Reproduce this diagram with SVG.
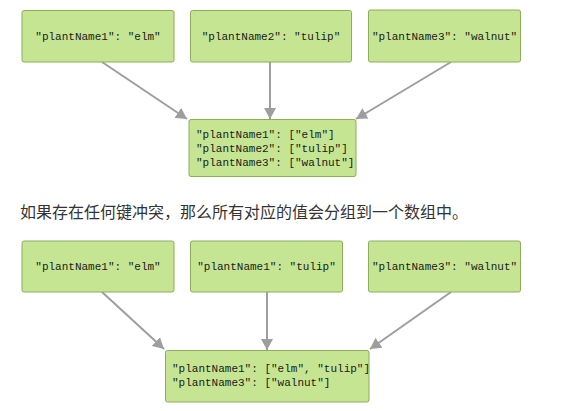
<svg xmlns="http://www.w3.org/2000/svg" width="586" height="411" viewBox="0 0 586 411">
<defs>
<marker id="ah" markerWidth="11" markerHeight="12" refX="11" refY="6" orient="auto" markerUnits="userSpaceOnUse">
<path d="M0,0 L11,6 L0,12 Z" fill="#9e9e9e"/>
</marker>
<style>
.box{fill:#c5e593;stroke:#8cad5c;stroke-width:1}
.t{font-family:"Liberation Mono","DejaVu Sans Mono",monospace;font-size:11px;fill:#1a1a1a}
.c{fill:none;stroke:#9e9e9e;stroke-width:2;marker-end:url(#ah)}
.zh{font-family:"Noto Sans CJK SC",sans-serif;font-size:16px;fill:#333}
</style>
</defs>
<rect width="586" height="411" fill="#fff"/>
<g id="connectors">
<line class="c" x1="102" y1="62" x2="187" y2="119"/>
<line class="c" x1="270" y1="62" x2="270" y2="119"/>
<line class="c" x1="451" y1="62" x2="356" y2="119"/>
<line class="c" x1="102" y1="292" x2="164" y2="349"/>
<line class="c" x1="267" y1="292" x2="267" y2="350"/>
<line class="c" x1="451" y1="292" x2="370" y2="349"/>
</g>
<g id="a1"><rect class="box" x="22" y="10.5" width="152" height="51.5" rx="2"/><text class="t" x="98" y="40" text-anchor="middle">"plantName1": "elm"</text></g>
<g id="a2"><rect class="box" x="190.5" y="10.5" width="161" height="51.5" rx="2"/><text class="t" x="271" y="40" text-anchor="middle">"plantName2": "tulip"</text></g>
<g id="a3"><rect class="box" x="368.5" y="10" width="152" height="52" rx="2"/><text class="t" x="444.5" y="40" text-anchor="middle">"plantName3": "walnut"</text></g>
<g id="a4"><rect class="box" x="189" y="119.5" width="167" height="57" rx="2"/>
<text class="t" x="196" y="138">"plantName1": ["elm"]</text>
<text class="t" x="196" y="152">"plantName2": ["tulip"]</text>
<text class="t" x="196" y="166">"plantName3": ["walnut"]</text></g>
<text class="zh" x="20" y="218">如果存在任何键冲突，那么所有对应的值会分组到一个数组中。</text>
<g id="b1"><rect class="box" x="22" y="241" width="152" height="51" rx="2"/><text class="t" x="98" y="270" text-anchor="middle">"plantName1": "elm"</text></g>
<g id="b2"><rect class="box" x="190.5" y="241" width="152" height="51" rx="2"/><text class="t" x="266.5" y="270" text-anchor="middle">"plantName1": "tulip"</text></g>
<g id="b3"><rect class="box" x="368.5" y="241" width="152" height="51" rx="2"/><text class="t" x="444.5" y="270" text-anchor="middle">"plantName3": "walnut"</text></g>
<g id="b4"><rect class="box" x="165.5" y="350.5" width="203.5" height="51.5" rx="2"/>
<text class="t" x="172" y="372">"plantName1": ["elm", "tulip"]</text>
<text class="t" x="172" y="386">"plantName3": ["walnut"]</text></g>
</svg>
